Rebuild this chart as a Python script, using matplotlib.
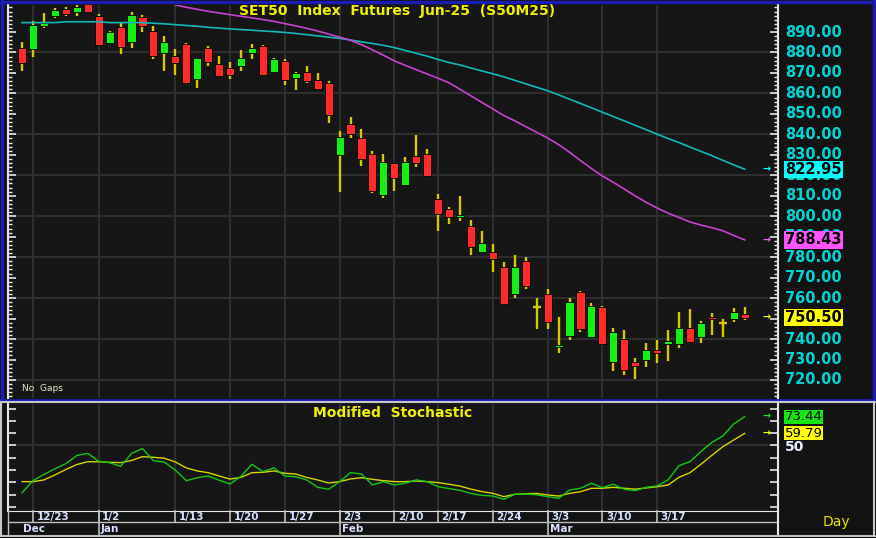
import matplotlib
matplotlib.use('Agg')
import matplotlib.pyplot as plt
import matplotlib.transforms as mtransforms
from matplotlib.lines import Line2D
import numpy as np

# SET50 futures, daily bars 12/20 .. 3/27
opens = [882.2, 881.7, 893.1, 897.8, 901.3, 899.6, 903.5, 897.8, 884.6, 892.5,
         885.1, 897.3, 890.5, 879.8, 878.3, 884.2, 866.9, 882.3, 874.2, 872.6,
         873.6, 879.6, 883.3, 870.6, 875.8, 867.7, 870.6, 866.6, 865.2, 829.9,
         845.1, 838.4, 830.3, 810.4, 825.9, 815.3, 829.6, 830.3, 808.3, 803.4,
         799.8, 795.2, 782.4, 782.7, 775.4, 761.9, 778.3, 755.8, 761.9, 736.0,
         741.7, 763.1, 741.2, 755.8, 729.0, 740.0, 729.0, 729.8, 734.7, 737.5,
         737.5, 745.3, 740.9, 750.6, 748.0, 749.8, 752.2]
highs = [885.1, 895.4, 899.3, 901.6, 902.1, 903.2, 905.0, 898.8, 890.5, 894.4,
         899.8, 898.3, 892.9, 888.1, 881.7, 884.5, 877.5, 883.3, 878.3, 875.5,
         881.2, 884.2, 883.6, 877.5, 876.8, 870.6, 873.4, 869.8, 866.2, 841.7,
         848.6, 842.5, 832.0, 830.3, 826.2, 829.1, 839.7, 832.7, 810.7, 804.7,
         809.9, 798.2, 792.8, 786.4, 777.8, 781.1, 780.2, 759.9, 764.3, 750.6,
         759.9, 763.3, 757.8, 756.0, 745.3, 744.4, 730.9, 738.2, 739.5, 744.4,
         753.1, 754.7, 748.8, 752.9, 749.8, 755.0, 755.8]
lows = [871.0, 877.8, 892.0, 896.7, 898.0, 897.8, 899.3, 883.2, 884.2, 879.3,
        882.2, 890.0, 876.8, 871.0, 869.0, 864.5, 862.8, 873.6, 868.2, 867.1,
        871.1, 876.7, 868.5, 869.8, 864.1, 861.7, 865.0, 861.7, 845.4, 811.7,
        838.4, 824.7, 811.2, 808.8, 812.3, 814.8, 824.2, 819.3, 792.8, 796.2,
        797.8, 781.1, 782.0, 772.9, 756.6, 759.9, 764.3, 744.8, 744.8, 733.0,
        739.5, 743.3, 741.0, 737.3, 724.4, 722.4, 720.4, 726.5, 728.2, 729.3,
        735.5, 738.5, 737.9, 742.0, 740.9, 748.5, 749.3]
closes = [874.9, 893.4, 894.6, 900.8, 898.8, 902.4, 899.6, 883.7, 890.0, 882.7,
          898.3, 892.9, 878.3, 885.1, 874.7, 865.2, 877.2, 875.2, 868.7, 869.2,
          877.2, 882.1, 869.0, 876.8, 866.6, 869.8, 866.1, 862.2, 849.5, 838.9,
          840.0, 828.0, 812.3, 826.7, 818.8, 826.7, 826.2, 819.7, 801.0, 799.5,
          800.6, 784.8, 786.8, 779.0, 757.1, 775.4, 766.0, 755.8, 748.5, 737.1,
          758.3, 744.8, 756.3, 737.5, 743.3, 724.9, 726.9, 734.7, 733.4, 739.2,
          745.3, 738.7, 747.7, 749.8, 748.0, 753.1, 750.5]

# moving averages (magenta one only starts on 1/13)
ma_cyan = [894.6, 894.6, 894.6, 894.6, 895.0, 895.0, 895.0, 895.0, 894.6, 894.6,
           894.6, 894.6, 894.3, 894.0, 893.6, 893.2, 892.8, 892.3, 891.9, 891.5,
           891.2, 890.9, 890.5, 890.2, 889.8, 889.3, 888.7, 888.1, 887.5, 886.9,
           886.1, 885.2, 884.4, 883.5, 882.4, 881.0, 879.6, 878.2, 876.6, 875.1,
           873.9, 872.4, 871.0, 869.6, 868.1, 866.4, 864.7, 863.0, 861.3, 859.3,
           857.2, 855.1, 853.0, 850.8, 848.7, 846.6, 844.4, 842.3, 840.1, 838.0,
           836.0, 833.8, 831.7, 829.6, 827.3, 825.1, 822.95]
ma_magenta_start = 14
ma_magenta = [903.2, 902.1, 901.1, 900.1, 899.3, 898.5, 897.7, 896.9, 896.1, 895.2,
              894.1, 893.0, 891.8, 890.5, 889.0, 887.5, 886.0, 883.8, 881.3, 878.7,
              875.9, 873.7, 871.6, 869.5, 867.4, 865.2, 862.0, 858.8, 855.6, 852.4,
              849.2, 846.6, 843.8, 841.0, 838.2, 835.0, 831.3, 827.2, 823.3, 819.7,
              816.6, 813.3, 809.9, 806.8, 804.0, 801.5, 799.4, 797.2, 795.7, 794.4,
              792.9, 790.6, 788.43]

# modified stochastic
stoch_k = [11.6, 21.4, 26.5, 31.0, 35.2, 41.8, 43.6, 37.2, 36.0, 33.0,
           43.5, 47.5, 37.6, 36.5, 30.0, 21.4, 23.8, 25.2, 21.8, 18.7,
           25.0, 34.7, 28.7, 31.8, 25.2, 24.6, 22.0, 16.0, 14.4, 20.6,
           27.9, 26.8, 17.9, 20.6, 17.9, 19.3, 22.0, 20.6, 16.5, 15.0,
           13.5, 11.0, 9.5, 8.9, 6.3, 10.3, 10.5, 10.0, 8.4, 7.0,
           13.8, 15.2, 19.3, 15.7, 18.5, 14.4, 13.3, 16.0, 17.1, 22.0,
           33.6, 36.8, 45.0, 52.5, 57.7, 67.5, 73.44]
stoch_d = [20.6, 20.6, 22.0, 26.0, 30.5, 34.5, 36.8, 36.8, 36.3, 36.0,
           37.8, 40.9, 40.4, 39.6, 36.6, 31.8, 29.3, 27.9, 25.2, 22.7,
           24.1, 27.9, 28.2, 29.3, 27.4, 26.8, 24.0, 22.0, 19.5, 20.6,
           22.8, 23.8, 22.5, 21.4, 20.6, 20.6, 21.1, 20.6, 19.8, 18.5,
           17.0, 14.5, 12.5, 11.1, 8.4, 10.3, 10.8, 11.0, 9.8, 8.9,
           11.1, 12.4, 15.2, 15.2, 16.0, 15.2, 14.5, 15.5, 16.5, 17.9,
           24.1, 27.9, 34.7, 42.0, 49.0, 54.5, 59.79]

week_ticks = [1, 7, 14, 19, 24, 29, 34, 38, 43, 48, 53, 58]
week_labels = ['12/23', '1/2', '1/13', '1/20', '1/27', '2/3', '2/10', '2/17',
               '2/24', '3/3', '3/10', '3/17']
month_ticks = [0, 7, 29, 48]
month_labels = ['Dec', 'Jan', 'Feb', 'Mar']

W, H = 876, 538
BG = '#131313'
PANEL = '#161616'
GRID = '#2e2e2e'
WICK = '#d8c800'
AXIS = '#e6e6e6'


def fx(px):
    return px / W


def fy(py):
    return 1 - py / H


fig = plt.figure(figsize=(W / 100, H / 100), dpi=100, facecolor=BG)
ax = fig.add_axes([fx(8), fy(398), fx(778) - fx(8), fy(5) - fy(398)])
ax2 = fig.add_axes([fx(8), fy(511), fx(778) - fx(8), fy(404) - fy(511)])

xlim = (-1.28, 69.04)
for a in (ax, ax2):
    a.set_facecolor(PANEL)
    a.set_xlim(*xlim)
    a.set_xticks([])
    for s in ('top', 'bottom'):
        a.spines[s].set_visible(False)
    for s in ('left', 'right'):
        a.spines[s].set_color(AXIS)
        a.spines[s].set_linewidth(1.5)
    a.vlines(week_ticks, -1000, 2000, color=GRID, lw=1.5, zorder=0)
ax2.spines['bottom'].set_visible(True)
ax2.spines['bottom'].set_color(AXIS)

# ---- price panel ----
ax.set_ylim(711.2, 903.2)
ax.hlines(np.arange(720, 900, 20), *xlim, color=GRID, lw=1.5, zorder=0)
ax.set_yticks(np.arange(720, 900, 10))
ax.set_yticks(np.arange(712, 904, 2), minor=True)
ax.tick_params(axis='y', which='both', direction='in', left=True, right=True,
               labelleft=False, labelright=False, color=AXIS)
ax.tick_params(axis='y', which='major', length=6, width=1.2)
ax.tick_params(axis='y', which='minor', length=3, width=1)

idx = np.arange(len(closes))
o = np.array(opens)
h = np.array(highs)
l = np.array(lows)
c = np.array(closes)
up = c > o
dn = c < o
flat = c == o

ax.vlines(idx, l, h, color=WICK, lw=1.7, zorder=2)
ax.bar(idx[up], np.maximum(c - o, 0.8)[up], bottom=o[up], width=0.74,
       color='#14f014', edgecolor='black', lw=0.6, zorder=3)
ax.bar(idx[dn], np.maximum(o - c, 0.8)[dn], bottom=c[dn], width=0.74,
       color='#ff2a2a', edgecolor='black', lw=0.6, zorder=3)
ax.hlines(c[flat], idx[flat] - 0.37, idx[flat] + 0.37, color=WICK, lw=1.7, zorder=3)

ax.plot(idx, ma_cyan, color='#12b8b8', lw=1.2, zorder=4)
ax.plot(idx[ma_magenta_start:], ma_magenta, color='#c444cc', lw=1.2, zorder=4)

ax.text(0.505, 0.985, 'SET50  Index  Futures  Jun-25  (S50M25)', transform=ax.transAxes,
        ha='center', va='center', color='#f0f000', fontsize=10, fontweight='bold', zorder=6)
ax.text(0.018, 0.012, 'No  Gaps', transform=ax.transAxes, ha='left', va='bottom',
        color='#e8e8c8', fontsize=6.5)

tr = mtransforms.blended_transform_factory(ax.transAxes, ax.transData)
xl = (785 - 8) / 770
for v in range(720, 900, 10):
    ax.text(xl, v, f'{v:.2f}', transform=tr, ha='left', va='center', color='#00d4d4',
            fontsize=10.5, fontweight='bold', clip_on=False, zorder=5)
for val, col in [(ma_cyan[-1], '#00ffff'), (ma_magenta[-1], '#ff55ff'), (closes[-1], '#ffff00')]:
    ax.text(xl, val, f'{val:.2f}', transform=tr, ha='left', va='center', color='black',
            fontsize=10.5, fontweight='bold', clip_on=False, zorder=6,
            bbox=dict(facecolor=col, edgecolor='none', pad=0.8))
    ax.text(0.9857, val, '→', transform=tr, ha='center', va='center', color=col,
            fontsize=7, fontweight='bold', zorder=6)

# ---- stochastic panel ----
ax2.set_ylim(-3.25, 83.7)
ax2.hlines([50], *xlim, color=GRID, lw=1.5, zorder=0)
ax2.set_yticks(np.arange(0, 90, 10))
ax2.tick_params(axis='y', which='major', direction='in', left=True, right=True,
                labelleft=False, labelright=False, color=AXIS, length=6, width=1.2)
ax2.plot(idx, stoch_d, color='#d4d400', lw=1.0, zorder=3)
ax2.plot(idx, stoch_k, color='#12c812', lw=1.0, zorder=4)
ax2.text(0.499, 0.916, 'Modified  Stochastic', transform=ax2.transAxes, ha='center',
         va='center', color='#f0f000', fontsize=10, fontweight='bold')

tr2 = mtransforms.blended_transform_factory(ax2.transAxes, ax2.transData)
for val, col in [(stoch_k[-1], '#14e614'), (stoch_d[-1], '#ffff00')]:
    ax2.text(xl, val, f'{val:.2f}', transform=tr2, ha='left', va='center', color='black',
             fontsize=9.5, clip_on=False, bbox=dict(facecolor=col, edgecolor='none', pad=0.4))
    ax2.text(0.9857, val, '→', transform=tr2, ha='center', va='center', color=col,
             fontsize=7, fontweight='bold')
ax2.text(xl, 49, '50', transform=tr2, ha='left', va='center', color='#e8eeff',
         fontsize=10, fontweight='bold', clip_on=False)

# ---- date rows ----
trx = mtransforms.blended_transform_factory(ax2.transData, fig.transFigure)
for t, lab in zip(week_ticks, week_labels):
    fig.add_artist(Line2D([t, t], [fy(511), fy(522)], transform=trx, color='#bfbfbf', lw=1.2))
    fig.text(t + 0.32, fy(517), lab, transform=trx, ha='left', va='center',
             color='#d8e0ff', fontsize=7.5, fontweight='bold')
for t, lab in zip(month_ticks, month_labels):
    if t > 0:
        fig.add_artist(Line2D([t, t], [fy(511), fy(535)], transform=trx, color='#bfbfbf', lw=1.2))
    fig.text(t + 0.08 if t == 0 else t + 0.2, fy(528.5), lab, transform=trx, ha='left',
             va='center', color='#d8e0ff', fontsize=7.5, fontweight='bold')
fig.add_artist(Line2D([fx(8), fx(778)], [fy(522), fy(522)], color='#bfbfbf', lw=1.0))
fig.add_artist(Line2D([fx(778), fx(778)], [fy(511), fy(535)], color=AXIS, lw=1.5))
fig.add_artist(Line2D([fx(8), fx(8)], [fy(511), fy(535)], color='#bfbfbf', lw=1.0))
fig.add_artist(Line2D([0, 1], [fy(535.5), fy(535.5)], color='#bfbfbf', lw=1.5))
fig.text(fx(836), fy(522), 'Day', ha='center', va='center', color='#e0e000', fontsize=10)

# frame and panel separator
fig.add_artist(Line2D([0, 1], [fy(1.5), fy(1.5)], color='#1c1cb4', lw=2.5))
fig.add_artist(Line2D([fx(1.5), fx(1.5)], [fy(0), fy(399)], color='#1c1cb4', lw=2.5))
fig.add_artist(Line2D([fx(873.5), fx(873.5)], [fy(0), fy(399)], color='#1c1cb4', lw=2.5))
fig.add_artist(Line2D([0, 1], [fy(399.5), fy(399.5)], color='#1c1cb4', lw=2.0))
fig.add_artist(Line2D([0, 1], [fy(402.2), fy(402.2)], color='#c8c8c8', lw=1.5))
fig.add_artist(Line2D([fx(874), fx(874)], [fy(402), fy(536)], color='#c8c8c8', lw=1.5))
fig.add_artist(Line2D([fx(1), fx(1)], [fy(402), fy(536)], color='#c8c8c8', lw=1.5))

fig.savefig('out.png', dpi=100, facecolor=BG)
